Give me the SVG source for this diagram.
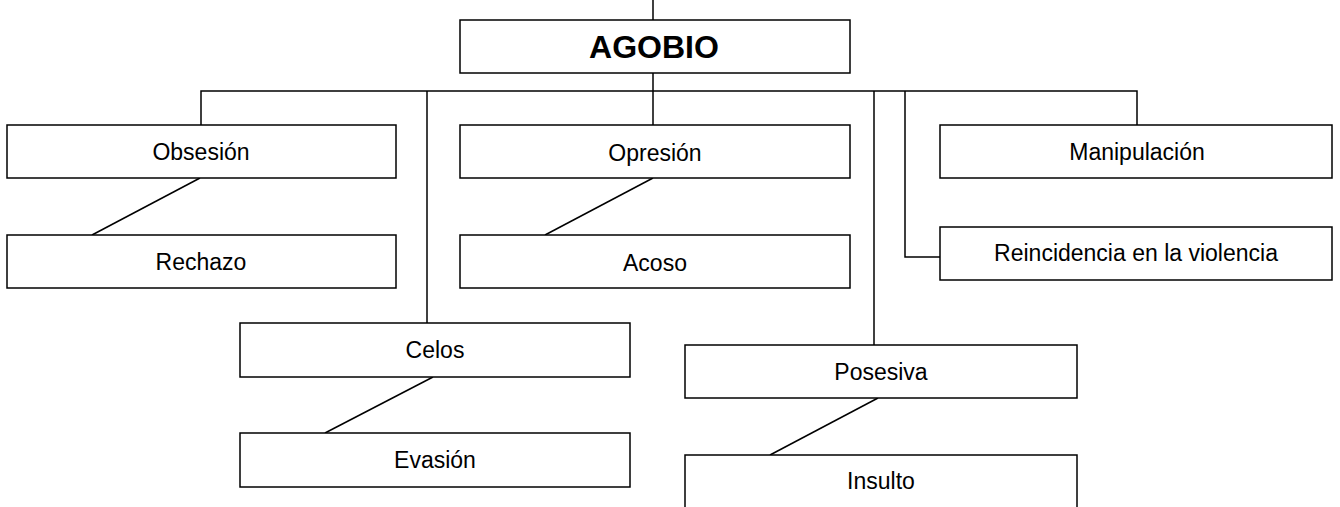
<svg xmlns="http://www.w3.org/2000/svg" width="1340" height="507" viewBox="0 0 1340 507">
<style>
.box{fill:#fff;stroke:#000;stroke-width:1.5}
.ln{fill:none;stroke:#000;stroke-width:1.5}
text{font-family:"Liberation Sans",Arial,sans-serif;font-size:23px;fill:#000;text-anchor:middle}
.title{font-size:32px;font-weight:bold}
</style>
<rect width="1340" height="507" fill="#fff"/>
<g id="connectors">
<path class="ln" d="M653,0V20"/>
<path class="ln" d="M653,73V91"/>
<path class="ln" d="M201,125V91H1137V125"/>
<path class="ln" d="M653,91V125"/>
<path class="ln" d="M427,91V323"/>
<path class="ln" d="M874,91V345"/>
<path class="ln" d="M905,91V257H940"/>
<path class="ln" d="M200,178L92,235"/>
<path class="ln" d="M653,178L545,235"/>
<path class="ln" d="M433,377L325,433"/>
<path class="ln" d="M878,398L770,455"/>
</g>
<g id="agobio"><rect class="box" x="460" y="20" width="390" height="53"/><text class="title" x="654" y="58">AGOBIO</text></g>
<g id="obsesion"><rect class="box" x="7" y="125" width="389" height="53"/><text x="201" y="160">Obsesión</text></g>
<g id="rechazo"><rect class="box" x="7" y="235" width="389" height="53"/><text x="201" y="270">Rechazo</text></g>
<g id="opresion"><rect class="box" x="460" y="125" width="390" height="53"/><text x="655" y="161">Opresión</text></g>
<g id="acoso"><rect class="box" x="460" y="235" width="390" height="53"/><text x="655" y="271">Acoso</text></g>
<g id="manipulacion"><rect class="box" x="940" y="125" width="392" height="53"/><text x="1137" y="160">Manipulación</text></g>
<g id="reincidencia"><rect class="box" x="940" y="227" width="392" height="53"/><text x="1136" y="261">Reincidencia en la violencia</text></g>
<g id="celos"><rect class="box" x="240" y="323" width="390" height="54"/><text x="435" y="358">Celos</text></g>
<g id="evasion"><rect class="box" x="240" y="433" width="390" height="54"/><text x="435" y="468">Evasión</text></g>
<g id="posesiva"><rect class="box" x="685" y="345" width="392" height="53"/><text x="881" y="380">Posesiva</text></g>
<g id="insulto"><rect class="box" x="685" y="455" width="392" height="60"/><text x="881" y="489">Insulto</text></g>
</svg>
